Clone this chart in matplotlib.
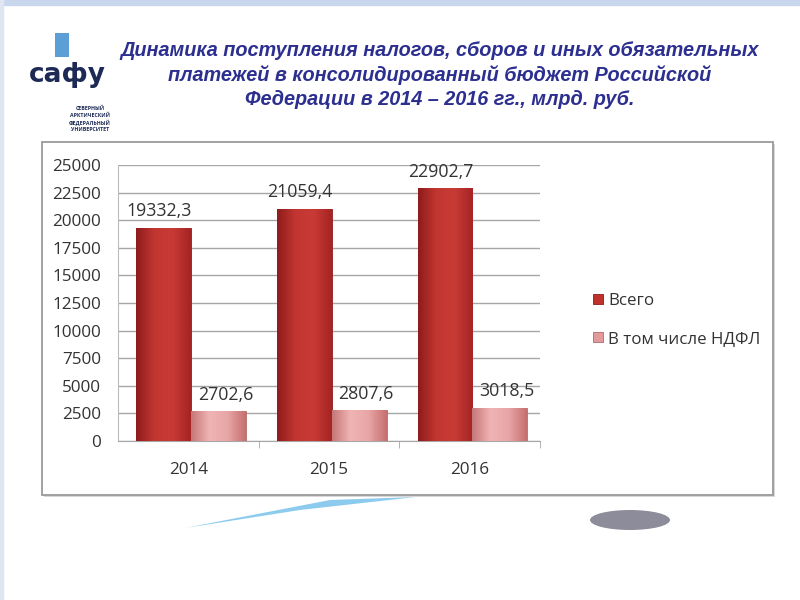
import matplotlib
matplotlib.use("Agg")
import matplotlib.pyplot as plt
import numpy as np
from matplotlib.patches import Rectangle, Ellipse, Polygon
from matplotlib.colors import LinearSegmentedColormap

years = ["2014", "2015", "2016"]
total = [19332.3, 21059.4, 22902.7]
ndfl = [2702.6, 2807.6, 3018.5]
total_labels = ["19332,3", "21059,4", "22902,7"]
ndfl_labels = ["2702,6", "2807,6", "3018,5"]
series_names = ["Всего", "В том числе НДФЛ"]
title = ("Динамика поступления налогов, сборов и иных обязательных\n"
         "платежей в консолидированный бюджет Российской\n"
         "Федерации в 2014 – 2016 гг., млрд. руб.")
yticks = list(range(0, 25001, 2500))

plt.rcParams['font.family'] = ['Open Sans', 'DejaVu Sans']

fig = plt.figure(figsize=(8, 6), dpi=100)
fig.patch.set_facecolor("white")

bg = fig.add_axes([0, 0, 1, 1], zorder=0)
bg.set_xlim(0, 800); bg.set_ylim(600, 0); bg.axis("off")
bg.add_patch(Rectangle((0, 0), 800, 5, color="#c9d7ee"))
bg.add_patch(Rectangle((0, 0), 3, 600, color="#dfe6f2"))
# chart frame
bg.add_patch(Rectangle((44, 144), 731, 353, facecolor="#d8d8d8", edgecolor="none"))
bg.add_patch(Rectangle((42, 142), 731, 353, facecolor="white", edgecolor="#9a9a9a", lw=1.3))
# decorative sliver and ellipse
bg.add_patch(Polygon([(185, 528), (330, 500), (416, 497), (300, 510)], closed=True,
                     facecolor="#8ccbee", edgecolor="none"))
bg.add_patch(Ellipse((630, 520), 80, 20, facecolor="#8d8c9b", edgecolor="none"))
# logo approximation
bg.add_patch(Rectangle((55, 33), 14, 24, facecolor="#5b9fd6", edgecolor="none"))
bg.text(67, 75, "сафу", fontsize=19, fontweight="bold", color="#1c2a55",
        ha="center", va="center", family=["DejaVu Sans Condensed", "DejaVu Sans"])
bg.text(90, 119, "СЕВЕРНЫЙ\nАРКТИЧЕСКИЙ\nФЕДЕРАЛЬНЫЙ\nУНИВЕРСИТЕТ", fontsize=3.8,
        fontweight="bold", color="#1c2a55", ha="center", va="center", linespacing=1.35)

# title
bg.text(440, 75, title, fontsize=14.3, fontweight="bold", fontstyle="italic",
        color="#2c2f8f", ha="center", va="center", linespacing=1.3,
        family=["Liberation Sans Narrow", "Liberation Sans", "DejaVu Sans"])

ax = fig.add_axes([118 / 800, 1 - 441 / 600, 422 / 800, 276 / 600], zorder=2)
ax.set_facecolor("none")
x = np.arange(len(years))
w = 0.39
red_bars = ax.bar(x - w / 2 + 0.02, total, w, color="#c0302c", edgecolor="#8e1b1b", lw=0.6, zorder=3)
pink_bars = ax.bar(x + w / 2 + 0.02, ndfl, w, color="#e29a9a", edgecolor="#b06a6a", lw=0.6, zorder=3)

cm_red = LinearSegmentedColormap.from_list("r", ["#8f1c1c", "#c23631", "#c83b35", "#a52424"])
cm_pink = LinearSegmentedColormap.from_list("p", ["#c77878", "#f0b4b4", "#e8a6a6", "#c77070"])
grad = np.linspace(0, 1, 64).reshape(1, -1)
for bars, cm in ((red_bars, cm_red), (pink_bars, cm_pink)):
    for b in bars:
        x0, y0 = b.get_x(), b.get_y()
        im = ax.imshow(grad, cmap=cm, aspect="auto", zorder=3.5,
                       extent=[x0, x0 + b.get_width(), y0, y0 + b.get_height()])
        im.set_clip_path(b)

for i in x:
    ax.text(i - w / 2 - 0.01, total[i] + 650, total_labels[i], ha="center", va="bottom",
            fontsize=12.8, color="#333333", zorder=5)
    ax.text(i + w / 2 + 0.07, ndfl[i] + 650, ndfl_labels[i], ha="center", va="bottom",
            fontsize=12.8, color="#333333", zorder=5)

ax.set_xlim(-0.5, 2.5)
ax.set_ylim(0, 25000)
ax.set_yticks(yticks)
ax.set_yticklabels([str(v) for v in yticks], fontsize=12.3, color="#333333")
ax.yaxis.grid(True, color="#a6a6a6", lw=1.0, zorder=0)
ax.set_axisbelow(True)
ax.tick_params(axis="y", length=0, pad=12)
ax.set_xticks(x)
ax.set_xticklabels(years, fontsize=12.3, color="#333333")
ax.tick_params(axis="x", length=0, pad=15)
ax.set_xticks([0.5, 1.5, 2.5], minor=True)
ax.tick_params(axis="x", which="minor", length=5, color="#a6a6a6")
for s in ("top", "right"):
    ax.spines[s].set_visible(False)
ax.spines["left"].set_color("#bcbcbc")
ax.spines["bottom"].set_color("#a6a6a6")

leg = ax.legend([red_bars, pink_bars], series_names, loc="center left",
                bbox_to_anchor=(578 / 800, 1 - 320 / 600), bbox_transform=fig.transFigure,
                frameon=False, fontsize=12.2, handlelength=0.6, handleheight=0.6,
                handletextpad=0.3, labelspacing=1.3)
for t in leg.get_texts():
    t.set_color("#333333")

fig.savefig("out.png", dpi=100, facecolor="white")
